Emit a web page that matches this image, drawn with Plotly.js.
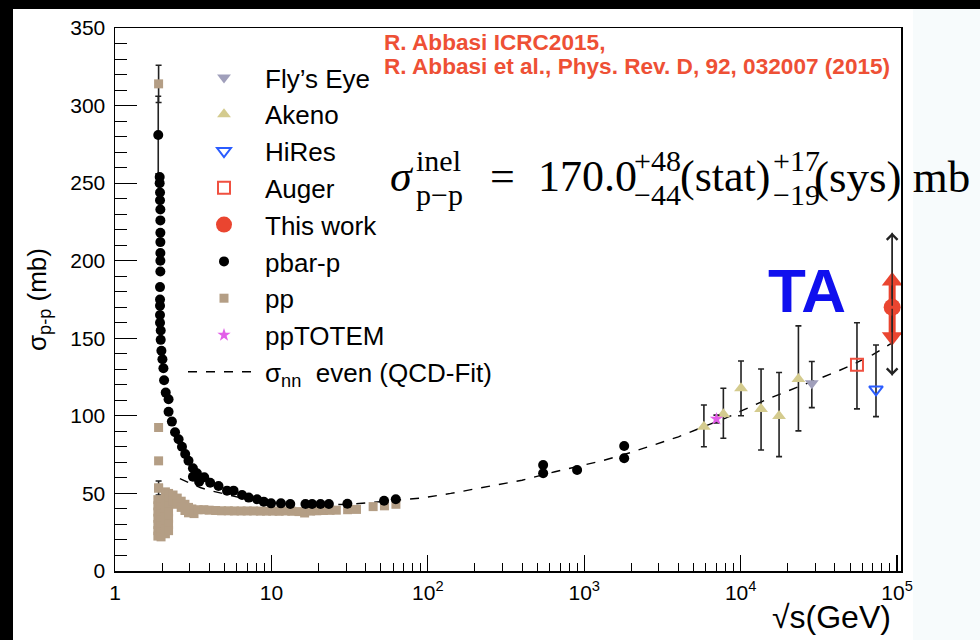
<!DOCTYPE html>
<html><head><meta charset="utf-8">
<script src="https://cdn.plot.ly/plotly-3.0.1.min.js"></script>
<style>
html,body{margin:0;padding:0;background:#000;width:980px;height:640px;overflow:hidden;}
#chart{position:absolute;left:13px;top:9px;width:967px;height:631px;background:#fff;}
</style></head><body><div id="chart"></div>
<script>
// ---------- data (sqrt(s) in GeV, sigma in mb) ----------
const pbarpX = [1.93,1.93,1.94,1.94,1.95,1.95,1.95,1.95,1.95,1.95,1.95,1.94,1.94,1.94,1.94,1.94,1.96,1.96,1.98,2.01,2.04,2.06,2.11,2.20,2.20,2.31,2.42,2.55,2.68,2.81,2.95,3.15,3.34,3.15,3.45,3.72,4.06,4.59,5.20,5.73,6.49,7.16,8.09,8.93,9.95,11.5,13.2,16.5,18.2,20.6,23.3,30.6,52.5,62.4,546,546,900,1800,1800];
const pbarpY = [254,250,244,239,233,226,218,212,205,200,193,183,175,171,165,160,155,149,142,136.5,130.7,123,115,110.7,102.7,96.3,89.4,84.9,80.1,75.4,71.1,66.2,63,60.8,57.6,60.4,56.9,54.8,51.8,51.8,49,47.3,46.2,44.7,43.6,43.6,43.2,43.2,43.2,43.2,43.2,43.4,45.3,46.2,68.3,63.0,65.1,80.6,72.7];
const pbarpErrPtX = [1.89], pbarpErrPtY = [281], pbarpErrPtE = [25];

const ppX = [1.9,1.9,1.9, 1.88,1.88,1.88,1.88,1.88,1.88,1.88, 1.97,1.97,1.97,1.97,1.97,1.97,1.97, 2.1,2.1,2.1,2.1,2.1,2.1,2.1,2.1, 2.2,2.2,2.2,2.2,2.2,2.2,2.2, 2.35,2.35,2.5,2.5,2.65,2.65,2.8,2.8,2.95,2.95,3.1,3.2,3.4,3.7,4.0,4.4,4.8,5.3,5.8,6.4,7.0,7.7,8.5,9.3,10.2,11.2,12.3,13.5,15,16.3,17.8,19.5,21.5,23.7,26,30.7,35,44.7,52.8,62.5];
const ppY = [92.5,71,53.5, 46,42,38,34,30,26,22.5, 45,41,37,33,29,25,22, 51,47,43,39,35,31,27,24, 50,46,42,38,34,30,26, 49,45,47,43,45,41,43,39,41,37.5,40,37,39.5,39.5,39.2,39,38.8,38.8,38.7,38.7,38.7,38.7,38.6,38.6,38.6,38.5,38.7,38.5,38.3,37.4,38.6,38.8,39,39.1,39.2,39.5,39.7,41.5,42,43];
const ppErrPtX = [1.9], ppErrPtY = [314], ppErrPtE = [12];
const ppLowErrX = [1.9], ppLowErrY = [53.5], ppLowErrE = [4.5];

const totemX = [7000], totemY = [98], totemErr = [2.5];

const akenoX = [5820,7750,10050,13500,17600,23400];
const akenoY = [93,101,117.8,104.4,99.9,123.8];
const akenoErrUp = [14,16.8,17.6,25.8,28,34.2];
const akenoErrDn = [12.9,15.4,17.7,26.4,26.2,33.5];

const flysX = [28500], flysY = [121], flysErrUp = [14], flysErrDn = [15.7];
const augerX = [55400], augerY = [133], augerErrUp = [27], augerErrDn = [28.5];
const hiresX = [73300], hiresY = [117], hiresErrUp = [28.7], hiresErrDn = [17.5];

const taX = [93000], taY = [170.0];
const taStatUp = 48, taStatDn = 44, taSysUp = 17, taSysDn = 19;

const fitX = [2.6,3,3.5,4,4.5,5.5,7,9,12,16,22,32,45,65,90,140,200,300,400,650,1000,1300,2000,2700,4000,5800,8000,10000,15000,20000,28500,40000,52000,70000,93000];
const fitY = [59.5,56.5,53.8,52,50.8,48.6,46.2,44.6,43.4,42.9,42.7,43,44.2,45.6,47,50,53,56,58.5,64,68.5,71,76.5,81,86.5,93,98.5,103,111,116,122,128,133,139.5,147];

const xTickVals = [1,10,100,1000,10000,100000];
const xTickText = ['1','10','10<sup>2</sup>','10<sup>3</sup>','10<sup>4</sup>','10<sup>5</sup>'];

// ---------- layout helpers ----------
const L = 115, T = 28, W = 786, H = 543;
const px = x => (x - L) / W;
const py = y => (T + H - y) / H;
const FONT = 'Liberation Sans, Arial, sans-serif';
const SERIF = 'Liberation Serif, Times New Roman, serif';

const minorVals = [];
for (let d = 1; d <= 10000; d *= 10) for (let k = 2; k <= 9; k++) minorVals.push(k * d);

const ebBlack = (arr, arrm) => ({type:'data', array:arr, arrayminus:arrm, symmetric: arrm === undefined, color:'#222', thickness:1.6, width:3});

const traces = [
  {x:fitX, y:fitY, mode:'lines', name:'σ<sub>nn</sub>  even (QCD-Fit)', line:{color:'#000', width:1.4, dash:'dash'}, legendrank:9, legendgroup:'g9'},
  {x:ppErrPtX, y:ppErrPtY, mode:'markers', showlegend:false, marker:{symbol:'square', size:9, color:'#b49e85'}, error_y:ebBlack(ppErrPtE)},
  {x:ppLowErrX, y:ppLowErrY, mode:'markers', showlegend:false, marker:{symbol:'square', size:9, color:'#b49e85'}, error_y:ebBlack(ppLowErrE)},
  {x:pbarpErrPtX, y:pbarpErrPtY, mode:'markers', showlegend:false, marker:{symbol:'circle', size:10, color:'#000'}, error_y:ebBlack(pbarpErrPtE)},
  {x:ppX, y:ppY, mode:'markers', name:'pp', marker:{symbol:'square', size:9, color:'#b49e85'}, legendrank:7, legendgroup:'g7'},
  {x:pbarpX, y:pbarpY, mode:'markers', name:'pbar-p', marker:{symbol:'circle', size:10, color:'#000'}, legendrank:6, legendgroup:'g6'},
  {x:akenoX, y:akenoY, mode:'markers', name:'Akeno', marker:{symbol:'triangle-up', size:12, color:'#d4cb8e'}, error_y:ebBlack(akenoErrUp, akenoErrDn), legendrank:2, legendgroup:'g2'},
  {x:totemX, y:totemY, mode:'markers', name:'ppTOTEM', marker:{symbol:'star', size:10, color:'#e25ee8'}, error_y:ebBlack(totemErr), legendrank:8, legendgroup:'g8'},
  {x:flysX, y:flysY, mode:'markers', name:'Fly’s Eye', marker:{symbol:'triangle-down', size:12, color:'#a09fbb'}, error_y:ebBlack(flysErrUp, flysErrDn), legendrank:1, legendgroup:'g1'},
  {x:augerX, y:augerY, mode:'markers', name:'Auger', marker:{symbol:'square-open', size:12, color:'#f05040', line:{width:2}}, error_y:ebBlack(augerErrUp, augerErrDn), legendrank:4, legendgroup:'g4'},
  {x:hiresX, y:hiresY, mode:'markers', name:'HiRes', marker:{symbol:'triangle-down-open', size:12, color:'#2a5cff', line:{width:2}}, error_y:ebBlack(hiresErrUp, hiresErrDn), legendrank:3, legendgroup:'g3'},
  {x:[taX[0], taX[0]], y:[taY[0] - taSysDn, taY[0] + taSysUp], mode:'lines', showlegend:false, line:{color:'#ea4530', width:7}},
  {x:[taX[0], taX[0]], y:[taY[0] - taStatDn, taY[0] + taStatUp], mode:'lines', showlegend:false, line:{color:'#333', width:1.5}},
  {x:[taX[0]], y:[taY[0] + taSysUp], mode:'markers', showlegend:false, marker:{symbol:'triangle-up', size:18, color:'#ea4530'}},
  {x:[taX[0]], y:[taY[0] - taSysDn], mode:'markers', showlegend:false, marker:{symbol:'triangle-down', size:18, color:'#ea4530'}},
  {x:taX, y:taY, mode:'markers', name:'This work', marker:{symbol:'circle', size:17, color:'#ea4530'}, legendrank:5, legendgroup:'g5'}
];

const lx = Math.log10(taX[0]);
const ann = (x, y, text, size, family, xanchor) => ({xref:'paper', yref:'paper', x:px(x), y:py(y), xanchor:xanchor || 'left', yanchor:'middle', showarrow:false, text:text, font:{family:family || SERIF, size:size, color:'#000'}});
const annotations = [
  // TA stat arrows
  {x:lx, y:taY[0] + taStatUp, ax:lx, ay:taY[0], xref:'x', yref:'y', axref:'x', ayref:'y', text:'', showarrow:true, arrowhead:4, arrowsize:1.6, arrowwidth:1.3, arrowcolor:'#222'},
  {x:lx, y:taY[0] - taStatDn, ax:lx, ay:taY[0], xref:'x', yref:'y', axref:'x', ayref:'y', text:'', showarrow:true, arrowhead:4, arrowsize:1.6, arrowwidth:1.3, arrowcolor:'#222'},
  // reference text
  {xref:'paper', yref:'paper', x:px(382), y:py(42), xanchor:'left', yanchor:'middle', showarrow:false, text:'<b>R. Abbasi ICRC2015,</b>', font:{family:FONT, size:22.6, color:'#ee5035'}},
  {xref:'paper', yref:'paper', x:px(382), y:py(66), xanchor:'left', yanchor:'middle', showarrow:false, text:'<b>R. Abbasi et al., Phys. Rev. D, 92, 032007 (2015)</b>', font:{family:FONT, size:22.6, color:'#ee5035'}},
  // TA label
  {xref:'paper', yref:'paper', x:px(807), y:py(290), xanchor:'center', yanchor:'middle', showarrow:false, text:'<b>TA</b>', font:{family:FONT, size:62, color:'#1010ee'}},
  // x-axis title
  ann(893, 617, '√s(GeV)', 32, FONT, 'right'),
  // formula pieces
  ann(388, 177, '<i>σ</i>', 44),
  ann(414, 160, 'inel', 30),
  ann(414, 194, 'p−p', 30),
  ann(488, 177, '=', 44),
  ann(536, 177, '170.0', 44),
  ann(632, 160, '+48', 30),
  ann(632, 194, '−44', 30),
  ann(678, 177, '(stat)', 44),
  ann(771, 160, '+17', 30),
  ann(771, 194, '−19', 30),
  ann(812, 177, '(sys) mb', 45)
];

const layout = {
  width:967, height:631,
  margin:{l:102, r:79, t:19, b:69, pad:0},
  paper_bgcolor:'#ffffff', plot_bgcolor:'#ffffff',
  font:{family:FONT, color:'#000'},
  showlegend:true,
  legend:{x:px(183), y:py(54), xanchor:'left', yanchor:'top', bgcolor:'rgba(0,0,0,0)', borderwidth:0,
          font:{family:FONT, size:26, color:'#000'}, itemwidth:72, traceorder:'grouped', tracegroupgap:0},
  xaxis:{type:'log', range:[0, 5.025], showgrid:false, zeroline:false, showline:true, linecolor:'#000', linewidth:1.5, mirror:true,
         ticks:'inside', ticklen:16, tickwidth:1.2, tickcolor:'#000', tickmode:'array', tickvals:xTickVals, ticktext:xTickText,
         tickfont:{family:FONT, size:21, color:'#000'}, ticklabelstandoff:2,
         minor:{tickmode:'array', tickvals:minorVals, ticks:'inside', ticklen:8, tickwidth:1, tickcolor:'#000', showgrid:false}},
  yaxis:{range:[0, 350], showgrid:false, zeroline:false, showline:true, linecolor:'#000', linewidth:1.5, mirror:true,
         ticks:'inside', ticklen:22, tickwidth:1.2, tickcolor:'#000', dtick:50, tick0:0,
         tickfont:{family:FONT, size:21, color:'#000'}, ticklabelstandoff:4,
         minor:{dtick:10, ticks:'inside', ticklen:12, tickwidth:1, tickcolor:'#000', showgrid:false},
         title:{text:'σ<sub>p-p</sub> (mb)', font:{family:FONT, size:26, color:'#000'}, standoff:16}},
  shapes:[{type:'rect', xref:'paper', yref:'paper', x0:px(913), x1:px(990), y0:py(650), y1:py(0), fillcolor:'#f7fbfc', line:{width:0}, layer:'below'}],
  annotations:annotations
};

Plotly.newPlot('chart', traces, layout, {displayModeBar:false, staticPlot:true});
</script></body></html>
